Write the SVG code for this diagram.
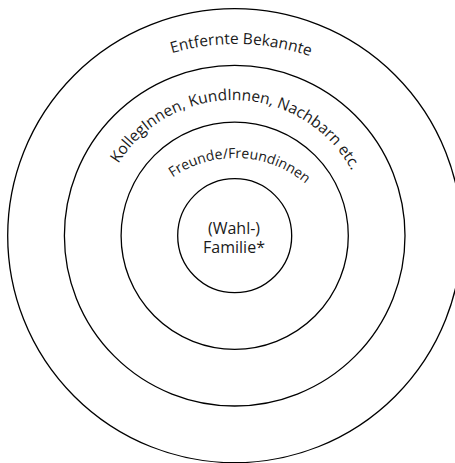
<svg xmlns="http://www.w3.org/2000/svg" xmlns:xlink="http://www.w3.org/1999/xlink" width="455" height="463" viewBox="0 0 455 463">
  <style>
    .ring { fill: none; stroke: #000; stroke-width: 1.3; }
    .lbl { font-family: "Open Sans", "Noto Sans", "DejaVu Sans", sans-serif; fill: #1a1a1a; }
  </style>
  <defs>
    <path id="arcOuter" d="M 6.5,273.5 A 229.5 229.5 0 0 1 465.5,273.5"/>
    <path id="arcMid" d="M 98,235 A 135 135 0 0 1 368,235"/>
    <path id="arcInner" d="M 125,268 A 110 110 0 0 1 345,268"/>
  </defs>
  <rect width="455" height="463" fill="#fff"/>
  <g id="ring-entfernte">
    <circle class="ring" cx="234.7" cy="235.7" r="227"/>
    <text class="lbl" font-size="15.5" text-anchor="middle"><textPath xlink:href="#arcOuter" href="#arcOuter" startOffset="365.5">Entfernte Bekannte</textPath></text>
  </g>
  <g id="ring-kollegen">
    <circle class="ring" cx="234.7" cy="235.7" r="170.3"/>
    <text class="lbl" font-size="15.5" text-anchor="middle"><textPath xlink:href="#arcMid" href="#arcMid" startOffset="216">KollegInnen, KundInnen, Nachbarn etc.</textPath></text>
  </g>
  <g id="ring-freunde">
    <circle class="ring" cx="234.7" cy="235.7" r="113.6"/>
    <text class="lbl" font-size="14" text-anchor="middle"><textPath xlink:href="#arcInner" href="#arcInner" startOffset="177.8">Freunde/Freundinnen</textPath></text>
  </g>
  <g id="ring-familie">
    <circle class="ring" cx="234.7" cy="235.7" r="57"/>
    <text class="lbl" font-size="16" text-anchor="middle" x="234" y="234">(Wahl-)</text>
    <text class="lbl" font-size="16" text-anchor="middle" x="234" y="252.7">Familie*</text>
  </g>
</svg>
